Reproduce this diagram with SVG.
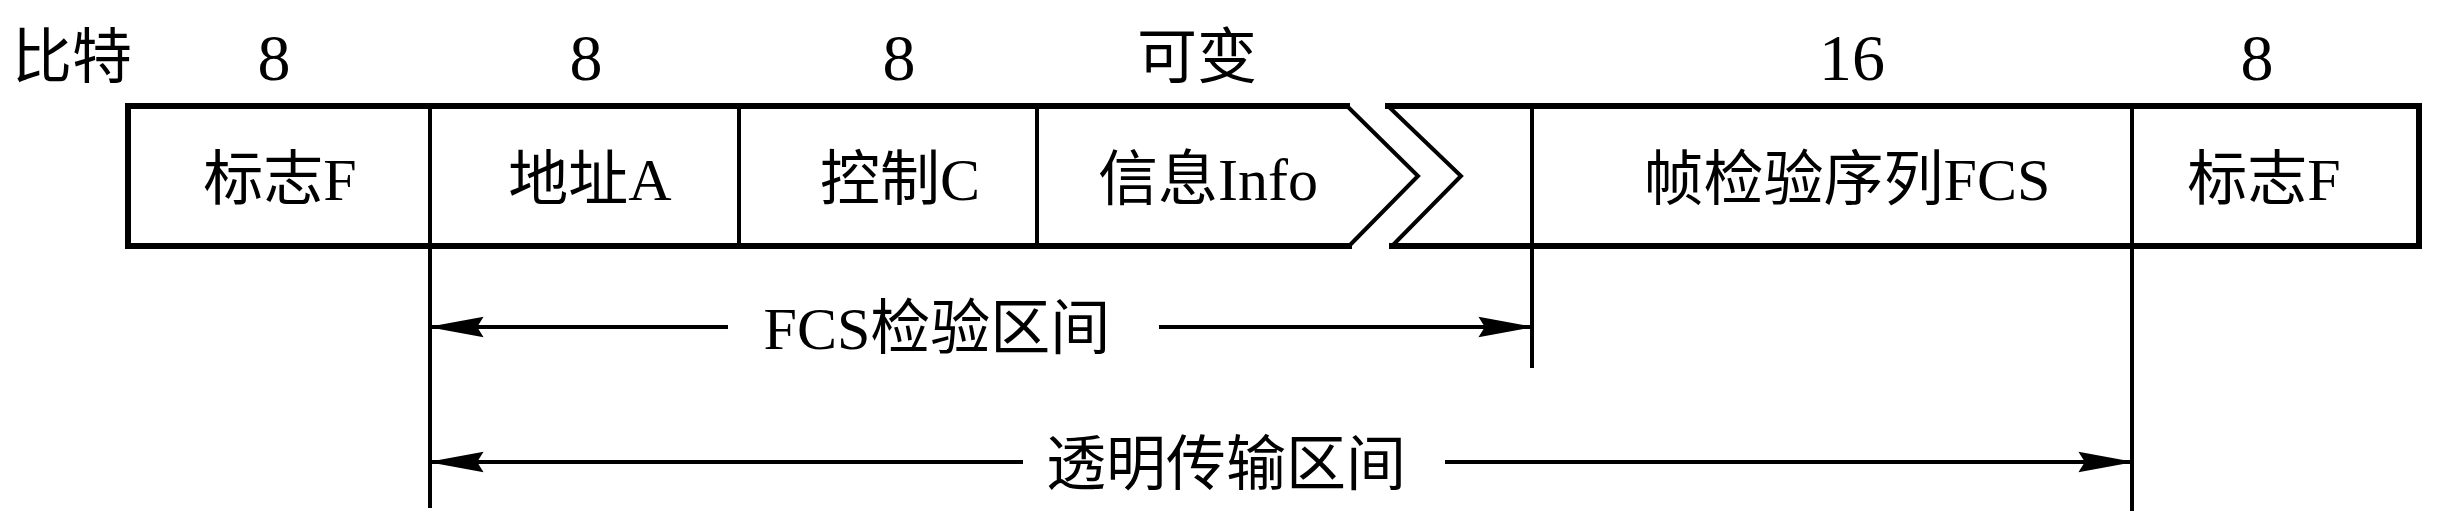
<svg xmlns="http://www.w3.org/2000/svg" width="2447" height="527" viewBox="0 0 2447 527">
<style>
  .t { font-family: "Liberation Serif", "Noto Sans CJK SC", serif; font-size: 60px; fill: #000; text-anchor: middle; }
  .num { font-size: 66px; }
  .border { fill: none; stroke: #000; stroke-width: 6; stroke-linejoin: miter; stroke-linecap: square; }
  .thin { fill: none; stroke: #000; stroke-width: 4; stroke-linejoin: miter; }
  .conn { fill: none; stroke: #000; stroke-width: 4; }
</style>
<defs>
  <marker id="ah" markerUnits="userSpaceOnUse" markerWidth="60" markerHeight="30" viewBox="-52 -12 56 24" refX="0" refY="0" orient="auto-start-reverse">
    <path d="M2,0 L-50,-9.5 L-44,0 L-50,9.5 Z" fill="#000"/>
  </marker>
</defs>
<rect width="2447" height="527" fill="#fff"/>

<g id="bits-header">
  <text class="t" x="72" y="78">比特</text>
  <text class="t num" x="274" y="80">8</text>
  <text class="t num" x="586" y="80">8</text>
  <text class="t num" x="899" y="80">8</text>
  <text class="t" x="1197" y="78">可变</text>
  <text class="t num" x="1852" y="80">16</text>
  <text class="t num" x="2257" y="80">8</text>
</g>

<g id="frame-outline">
  <path class="border" d="M1347,106 H128 V246 H1349"/>
  <path class="border" d="M1388,106 H2419 V246 H1392"/>
  <path class="thin" d="M1347,106 L1418,176 L1349,246"/>
  <path class="thin" d="M1388,106 L1461,176 L1392,246"/>
</g>

<g id="field-flag-start">
  <text class="t" x="280" y="200">标志F</text>
</g>
<g id="field-address">
  <line class="thin" x1="430" y1="106" x2="430" y2="246"/>
  <text class="t" x="590" y="200">地址A</text>
</g>
<g id="field-control">
  <line class="thin" x1="739" y1="106" x2="739" y2="246"/>
  <text class="t" x="900" y="200">控制C</text>
</g>
<g id="field-info">
  <line class="thin" x1="1037" y1="106" x2="1037" y2="246"/>
  <text class="t" x="1208" y="200">信息Info</text>
</g>
<g id="field-fcs">
  <line class="thin" x1="1532" y1="106" x2="1532" y2="246"/>
  <text class="t" x="1847" y="200">帧检验序列FCS</text>
</g>
<g id="field-flag-end">
  <line class="thin" x1="2132" y1="106" x2="2132" y2="246"/>
  <text class="t" x="2264" y="200">标志F</text>
</g>

<g id="connectors">
  <line class="conn" x1="430" y1="246" x2="430" y2="508"/>
  <line class="conn" x1="1532" y1="246" x2="1532" y2="368"/>
  <line class="conn" x1="2132" y1="246" x2="2132" y2="511"/>
  <line class="conn" x1="728" y1="327" x2="430" y2="327" marker-end="url(#ah)"/>
  <line class="conn" x1="1159" y1="327" x2="1532" y2="327" marker-end="url(#ah)"/>
  <line class="conn" x1="1023" y1="462" x2="430" y2="462" marker-end="url(#ah)"/>
  <line class="conn" x1="1445" y1="462" x2="2132" y2="462" marker-end="url(#ah)"/>
</g>

<g id="label-fcs-range">
  <text class="t" x="937" y="349">FCS检验区间</text>
</g>
<g id="label-transparent-range">
  <text class="t" x="1226" y="485">透明传输区间</text>
</g>
</svg>
